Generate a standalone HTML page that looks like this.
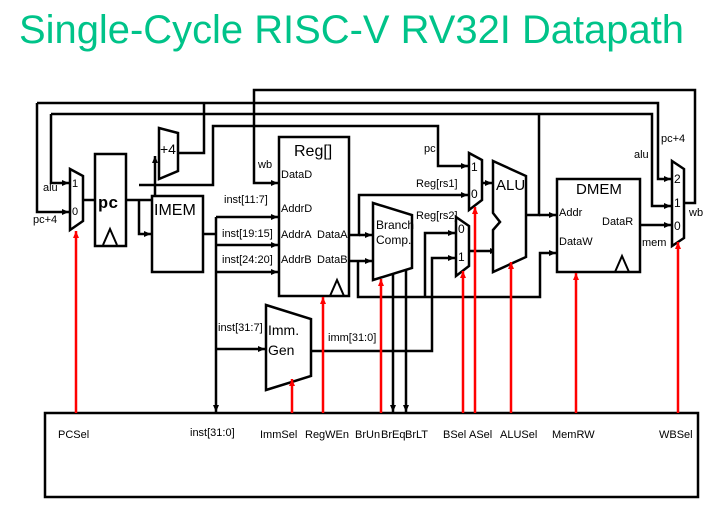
<!DOCTYPE html>
<html><head><meta charset="utf-8"><style>
html,body{margin:0;padding:0;background:#fff;width:719px;height:510px;overflow:hidden}
svg text{font-family:"Liberation Sans",sans-serif;fill:#000}
</style></head><body>
<svg width="719" height="510" viewBox="0 0 719 510" xmlns="http://www.w3.org/2000/svg">
<defs>
<marker id="a" markerWidth="8" markerHeight="8" refX="7" refY="4" orient="auto" markerUnits="userSpaceOnUse"><path d="M0,1 L7,4 L0,7 z" fill="#000"/></marker>
<marker id="r" markerWidth="8" markerHeight="8" refX="7" refY="4" orient="auto" markerUnits="userSpaceOnUse"><path d="M0,1 L7,4 L0,7 z" fill="#f00"/></marker>
</defs>
<text x="19" y="43" font-size="40" textLength="665" lengthAdjust="spacingAndGlyphs" style="fill:#00c389">Single-Cycle RISC-V RV32I Datapath</text>

<g fill="none" stroke="#000" stroke-width="2.5">
<!-- wb loop -->
<polyline points="684,203 695,203 695,90 254,90 254,183 278,183" marker-end="url(#a)"/>
<!-- pc+4 loop -->
<polyline points="37,103 658,103 658,179 671,179" marker-end="url(#a)"/>
<polyline points="37,103 37,212 69,212" marker-end="url(#a)"/>
<polyline points="178,153 204,153 204,103"/>
<!-- alu loop -->
<polyline points="51,114 652,114 652,206 671,206" marker-end="url(#a)"/>
<polyline points="51,114 51,183 69,183" marker-end="url(#a)"/>
<polyline points="526,215 539,215 539,114"/>
<polyline points="539,215 556,215" marker-end="url(#a)"/>
<!-- pc line -->
<polyline points="139,185 213,185 213,126 407,126 438,126 438,166 468,166" marker-end="url(#a)"/>
<!-- pc mux out -->
<line x1="83" y1="200" x2="95" y2="200"/>
<polyline points="126,200 155,200 155,156" marker-end="url(#a)"/>
<polyline points="139,200 139,234 151,234" marker-end="url(#a)"/>
<!-- IMEM out bus -->
<polyline points="203,234 216,234"/>
<line x1="216" y1="217" x2="216" y2="412" marker-end="url(#a)"/>
<polyline points="216,217 278,217" marker-end="url(#a)"/>
<polyline points="216,245 278,245" marker-end="url(#a)"/>
<polyline points="216,272 278,272" marker-end="url(#a)"/>
<polyline points="216,349 265,349" marker-end="url(#a)"/>
<!-- DataA -->
<polyline points="349,235 359,235 359,195 468,195" marker-end="url(#a)"/>
<polyline points="359,235 372,235" marker-end="url(#a)"/>
<!-- DataB -->
<polyline points="349,261 372,261" marker-end="url(#a)"/>
<polyline points="358,261 358,297 540,297 540,253 556,253" marker-end="url(#a)"/>
<polyline points="425,297 425,233 455,233" marker-end="url(#a)"/>
<!-- imm -->
<polyline points="311,351 432,351 432,258 455,258" marker-end="url(#a)"/>
<!-- A mux out -->
<line x1="482" y1="183" x2="492" y2="183" marker-end="url(#a)"/>
<line x1="469" y1="251" x2="497" y2="251" marker-end="url(#a)"/>
<!-- DataR -->
<line x1="640" y1="225" x2="671" y2="225" marker-end="url(#a)"/>
<!-- BrEq BrLT -->
<line x1="393" y1="272" x2="393" y2="412" marker-end="url(#a)"/>
<line x1="406" y1="270" x2="406" y2="412" marker-end="url(#a)"/>
</g>

<g fill="#fff" stroke="#000" stroke-width="2.5">
<polygon points="70,169 83,176 83,221 70,230"/>
<rect x="95" y="154" width="31" height="92"/>
<polygon points="159,128 178,133 178,171 159,179"/>
<rect x="152" y="196" width="51" height="76"/>
<rect x="279" y="137" width="70" height="159"/>
<polygon points="373,203 412,215 412,268 373,280"/>
<polygon points="469,153 482,160 482,200 469,210"/>
<polygon points="456,217 469,226 469,266 456,276"/>
<polygon points="493,161 526,176 526,257 493,272 493,230 500,222 493,213"/>
<rect x="557" y="179" width="83" height="93"/>
<polygon points="672,161 684,169 684,238 672,246"/>
<polygon points="266,305 311,319 311,376 266,390"/>
<rect x="45" y="413" width="653" height="84"/>
</g>
<g fill="none" stroke="#000" stroke-width="2">
<polyline points="103,245 110,229 117,245"/>
<polyline points="330,296 337,280 344,296"/>
<polyline points="615,272 622,256 629,272"/>
</g>

<g stroke="#f00" stroke-width="2.5" fill="none">
<line x1="76" y1="413" x2="76" y2="231" marker-end="url(#r)"/>
<line x1="292" y1="413" x2="292" y2="379" marker-end="url(#r)"/>
<line x1="323" y1="413" x2="323" y2="297" marker-end="url(#r)"/>
<line x1="381" y1="413" x2="381" y2="279" marker-end="url(#r)"/>
<line x1="463" y1="413" x2="463" y2="271" marker-end="url(#r)"/>
<line x1="475" y1="413" x2="475" y2="207" marker-end="url(#r)"/>
<line x1="511" y1="413" x2="511" y2="262" marker-end="url(#r)"/>
<line x1="576" y1="413" x2="576" y2="273" marker-end="url(#r)"/>
<line x1="678" y1="413" x2="678" y2="242" marker-end="url(#r)"/>
</g>

<g font-size="11">
<text x="43" y="191">alu</text>
<text x="33" y="223">pc+4</text>
<text x="72" y="187">1</text>
<text x="72" y="215">0</text>
<text x="258" y="168">wb</text>
<text x="224" y="203">inst[11:7]</text>
<text x="222" y="237">inst[19:15]</text>
<text x="222" y="263">inst[24:20]</text>
<text x="218" y="331">inst[31:7]</text>
<text x="328" y="341">imm[31:0]</text>
<text x="424" y="152">pc</text>
<text x="416" y="187">Reg[rs1]</text>
<text x="416" y="219">Reg[rs2]</text>
<text x="471" y="171" font-size="12">1</text>
<text x="471" y="198" font-size="12">0</text>
<text x="458" y="233" font-size="12">0</text>
<text x="458" y="261" font-size="12">1</text>
<text x="634" y="158">alu</text>
<text x="661" y="142">pc+4</text>
<text x="689" y="216">wb</text>
<text x="642" y="246">mem</text>
<text x="674" y="183" font-size="12">2</text>
<text x="674" y="207" font-size="12">1</text>
<text x="674" y="230" font-size="12">0</text>
</g>
<text x="98" y="208" font-size="17" font-weight="bold" style="font-family:'Liberation Mono',monospace">pc</text>
<text x="160" y="154" font-size="14">+4</text>
<text x="154" y="215" font-size="16">IMEM</text>
<text x="294" y="156" font-size="16">Reg[]</text>
<g font-size="11">
<text x="281" y="178">DataD</text>
<text x="281" y="212">AddrD</text>
<text x="281" y="238">AddrA</text>
<text x="281" y="263">AddrB</text>
<text x="317" y="238">DataA</text>
<text x="317" y="263">DataB</text>
<text x="376" y="229" font-size="12">Branch</text>
<text x="376" y="244" font-size="12">Comp.</text>
<text x="559" y="216">Addr</text>
<text x="559" y="245">DataW</text>
<text x="602" y="225">DataR</text>
</g>
<text x="496" y="190" font-size="15">ALU</text>
<text x="576" y="194" font-size="15">DMEM</text>
<text x="268" y="335" font-size="14">Imm.</text>
<text x="268" y="355" font-size="14">Gen</text>
<g font-size="11">
<text x="58" y="438">PCSel</text>
<text x="190" y="436">inst[31:0]</text>
<text x="260" y="438">ImmSel</text>
<text x="305" y="438">RegWEn</text>
<text x="355" y="438">BrUn</text>
<text x="381" y="438">BrEq</text>
<text x="405" y="438">BrLT</text>
<text x="443" y="438">BSel</text>
<text x="469" y="438">ASel</text>
<text x="500" y="438">ALUSel</text>
<text x="552" y="438">MemRW</text>
<text x="659" y="438">WBSel</text>
</g>
</svg>
</body></html>
